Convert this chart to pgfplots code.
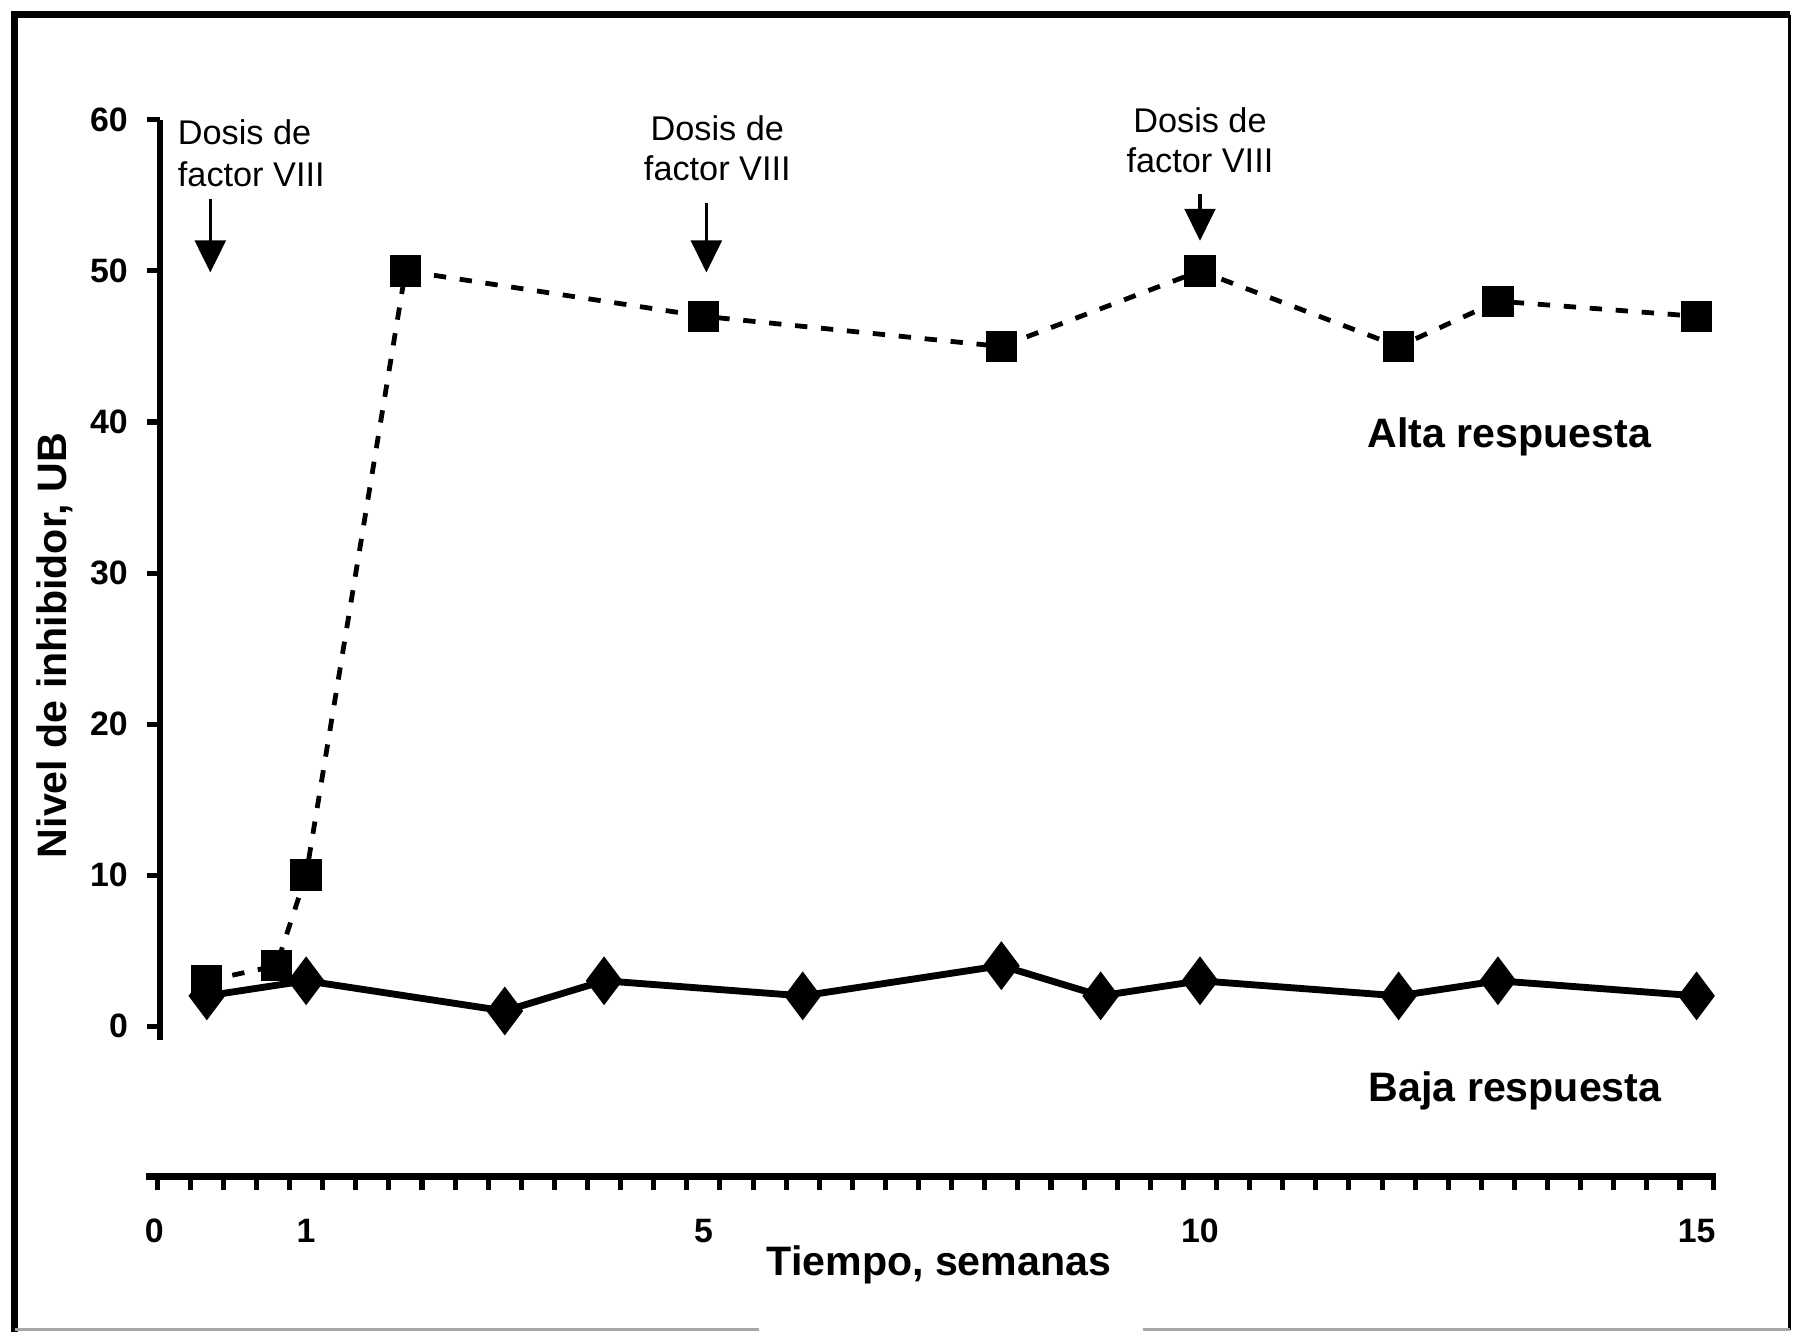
\documentclass[border=0pt]{standalone}
\usepackage{fontspec}
\setmainfont{Liberation Sans}
\usepackage{pgfplots}
\usepackage{pgfplotstable}
\pgfplotsset{compat=1.18}
\usetikzlibrary{arrows.meta}

% high responders (squares, dashed)
\pgfplotstableread{
x y
0 3
0.7 4
1 10
2 50
5 47
8 45
10 50
12 45
13 48
15 47
}\alta

% low responders (diamonds, solid)
\pgfplotstableread{
x y
0 2
1 3
3 1
4 3
6 2
8 4
9 2
10 3
12 2
13 3
15 2
}\baja

\begin{document}
\begin{tikzpicture}
  \path (0,0) rectangle (392pt,291.5pt);
  % y axis and data
  \begin{axis}[
      at={(35pt,64pt)}, anchor=south west,
      scale only axis, width=340.5pt, height=201.25pt,
      xmin=-0.472, xmax=15.196, ymin=-0.9, ymax=60,
      axis x line=none, axis y line*=left,
      xtick=\empty,
      ytick={0,10,...,60},
      tick align=outside, major tick length=2.9pt,
      y axis line style={line width=1.45pt},
      every tick/.style={line width=1.1pt, black},
      /pgf/number format/assume math mode=true,
      yticklabel style={font=\fontsize{7.4}{8}\selectfont\bfseries, xshift=-0.6pt},
      ylabel={Nivel de inhibidor, UB},
      ylabel style={at={(axis description cs:-0.0675,0.4286)}, anchor=center,
        font=\fontsize{9}{10}\selectfont\bfseries},
      clip=false,
    ]
    \addplot[black, line width=1.05pt, dash pattern=on 2.7pt off 3pt,
      mark=square*, mark size=2.9pt, mark options={solid}] table {\alta};
    \addplot[black, line width=1.5pt,
      mark=diamond*, mark size=4.1pt] table {\baja};

    \draw[-{Triangle[length=7pt,width=6.7pt]}, line width=0.75pt]
      (axis cs:0.035,54.77) -- (axis cs:0.035,49.9);
    \draw[-{Triangle[length=7pt,width=6.7pt]}, line width=0.75pt]
      (axis cs:5.03,54.5) -- (axis cs:5.03,49.9);
    \draw[-{Triangle[length=7pt,width=6.7pt]}, line width=0.75pt]
      (axis cs:10.0,55.07) -- (axis cs:10.0,52.0);

    \node[anchor=west, align=left, inner sep=0pt, font=\fontsize{7.5}{9.25}\selectfont]
      at (axis cs:-0.30,57.8) {Dosis de\\factor VIII};
    \node[align=center, inner sep=0pt, font=\fontsize{7.5}{8.75}\selectfont]
      at (axis cs:5.14,58.1) {Dosis de\\factor VIII};
    \node[align=center, inner sep=0pt, font=\fontsize{7.5}{8.75}\selectfont]
      at (axis cs:10.0,58.65) {Dosis de\\factor VIII};

    \node[anchor=west, inner sep=0pt, font=\fontsize{9}{10}\selectfont\bfseries]
      at (axis cs:11.68,39.0) {Alta respuesta};
    \node[anchor=west, inner sep=0pt, font=\fontsize{9}{10}\selectfont\bfseries]
      at (axis cs:11.69,-4.3) {Baja respuesta};
  \end{axis}

  % separate time axis (ruler)
  \begin{axis}[
      at={(32pt,34pt)}, anchor=south west,
      scale only axis, width=343.5pt, height=10pt,
      xmin=-0.61, xmax=15.196, ymin=0, ymax=1,
      axis y line=none, axis x line*=bottom,
      ytick=\empty,
      x axis line style={line width=1.6pt},
      xtick={-0.53,1,5,10,15}, xticklabels={0,1,5,10,15},
      major tick length=0pt, major tick style={draw=none},
      minor xtick={-0.5,-0.16667,...,15.2},
      minor tick length=3pt, tick align=outside,
      minor tick style={line width=1.1pt, black},
      /pgf/number format/assume math mode=true,
      xticklabel style={font=\fontsize{7.4}{8}\selectfont\bfseries, anchor=center, yshift=-11.9pt},
      xlabel={Tiempo, semanas},
      xlabel style={at={(axis description cs:0.505,0)}, anchor=center, yshift=-19.25pt,
        font=\fontsize{9}{10}\selectfont\bfseries},
      clip=false,
    ]
    \addplot[draw=none] coordinates {(0,0.5)};
  \end{axis}

  % frame
  \draw[line width=1.5pt] (3.25pt,0) -- (3.25pt,288.25pt) -- (391.6pt,288.25pt);
  \draw[line width=0.5pt] (391.6pt,288.25pt) -- (391.6pt,0.5pt);
  \draw[line width=0.6pt, black!35] (3.25pt,0.6pt) -- (166pt,0.6pt);
  \draw[line width=0.6pt, black!35] (250pt,0.6pt) -- (391.6pt,0.6pt);
\end{tikzpicture}
\end{document}
